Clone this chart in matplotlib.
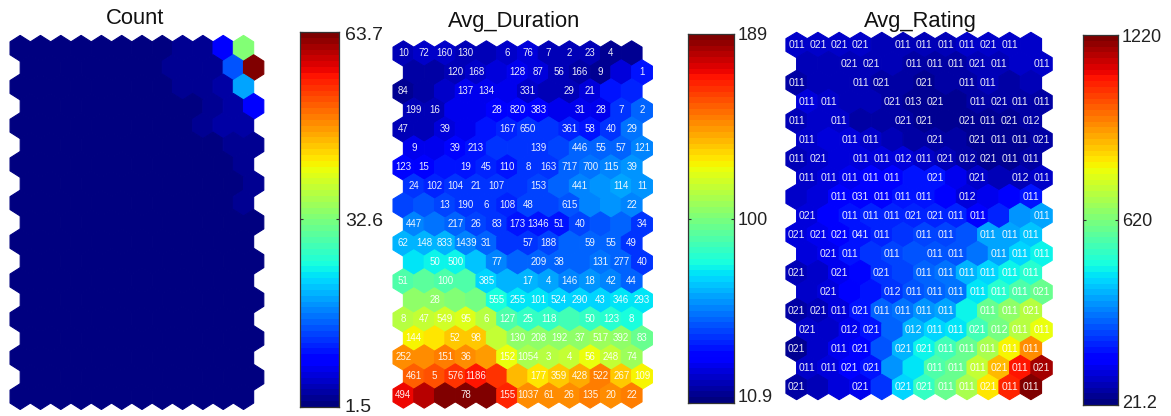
import numpy as np
import matplotlib
matplotlib.use('Agg')
import matplotlib.pyplot as plt
from matplotlib.collections import PolyCollection

plt.rcParams['font.family'] = ['Liberation Sans', 'DejaVu Sans']

# Count hits per map unit (19 rows x 12 columns)
count_values = [
    [2, 2, 2, 2, 2, 2, 2, 2, 2.5, 2.5, 9, 33],
    [2, 2, 2, 2, 2, 2, 2, 2.5, 2.5, 3, 15, 63.7],
    [2, 2, 2, 2, 2, 2, 2, 2, 2.5, 2.5, 4, 19],
    [2, 2, 2, 2, 2, 2, 2, 2, 2, 3, 4, 9],
    [2, 2, 2, 2, 2, 2, 2, 2, 2, 3, 3.5, 3.5],
    [2, 2, 2, 2, 2, 2, 2, 2, 2, 2, 2.5, 2.5],
    [2, 2, 2, 2, 2, 2, 2, 2, 2, 2, 2, 3],
    [2, 2, 2, 2, 2, 2, 2, 2, 2, 2, 2, 2.5],
    [2, 2, 2, 2, 2, 2, 2, 2, 2, 2, 2, 3],
    [2, 2, 2, 2, 2, 2, 2, 2, 2, 2, 2, 2],
    [2, 2, 2, 2, 2, 2, 2, 2, 2, 2, 2, 2],
    [2, 2, 2, 2, 2, 2, 2, 2, 2, 2, 2, 2],
    [2, 2, 2, 2, 2, 2, 2, 2, 2, 2, 2, 2],
    [2, 2, 2, 2, 2, 2, 2, 2, 2, 2, 2, 2],
    [2, 2, 2, 2, 2, 2, 2, 2, 2, 2, 2, 2],
    [2, 2, 2, 2, 2, 2, 2, 2, 2, 2, 2, 2],
    [2, 2, 2, 2, 2, 2, 2, 2, 2, 2, 2, 2],
    [2, 2, 2, 2, 2, 2, 2, 2, 2, 2, 2, 2],
    [2, 2, 2, 2, 2, 2, 2, 2, 2, 2, 2, 2],
]

duration_values = [
    [20, 24, 24, 22, 20, 24, 26, 22, 20, 20, 15, 15],
    [17, 17, 20, 24, 26, 28, 26, 22, 17, 16, 26, 36],
    [14, 18, 24, 28, 30, 28, 24, 22, 22, 26, 36, 40],
    [20, 20, 28, 30, 32, 34, 32, 30, 28, 30, 42, 50],
    [20, 22, 26, 30, 36, 40, 42, 44, 40, 38, 44, 54],
    [28, 30, 34, 38, 42, 42, 44, 46, 50, 50, 52, 58],
    [34, 32, 36, 38, 40, 38, 42, 44, 50, 54, 58, 60],
    [42, 40, 44, 44, 42, 44, 46, 50, 56, 60, 62, 60],
    [46, 48, 46, 44, 42, 40, 46, 46, 48, 56, 60, 56],
    [56, 54, 50, 46, 42, 36, 38, 38, 46, 48, 50, 44],
    [64, 66, 64, 56, 50, 44, 44, 46, 50, 50, 52, 44],
    [74, 76, 76, 68, 58, 52, 52, 50, 50, 54, 52, 44],
    [90, 92, 90, 90, 70, 64, 64, 62, 58, 60, 58, 52],
    [103, 103, 100, 98, 80, 74, 74, 72, 72, 72, 74, 74],
    [112, 115, 118, 122, 112, 90, 86, 86, 88, 85, 82, 80],
    [126, 130, 136, 135, 115, 103, 105, 105, 104, 106, 104, 96],
    [146, 145, 148, 146, 143, 124, 110, 112, 116, 124, 115, 108],
    [155, 156, 162, 168, 163, 137, 130, 135, 140, 148, 135, 125],
    [170, 178, 187, 189, 189, 165, 147, 145, 145, 148, 147, 148],
]

rating_values = [
    [110, 105, 100, 100, 95, 90, 90, 95, 100, 110, 110, 110],
    [90, 90, 95, 95, 80, 70, 65, 70, 85, 90, 100, 100],
    [70, 80, 85, 85, 70, 60, 50, 60, 75, 80, 75, 85],
    [120, 100, 85, 80, 65, 55, 50, 50, 60, 65, 65, 75],
    [85, 100, 110, 75, 65, 65, 55, 45, 50, 55, 55, 65],
    [100, 115, 125, 100, 80, 60, 60, 60, 55, 50, 50, 60],
    [95, 110, 130, 130, 120, 115, 100, 80, 60, 55, 50, 60],
    [110, 120, 150, 155, 160, 200, 190, 150, 100, 95, 95, 110],
    [110, 130, 160, 170, 165, 190, 195, 160, 130, 150, 170, 200],
    [130, 160, 190, 215, 220, 225, 220, 210, 170, 220, 340, 370],
    [120, 150, 170, 200, 225, 240, 250, 250, 270, 360, 360, 400],
    [125, 140, 190, 230, 250, 265, 280, 280, 320, 370, 420, 460],
    [80, 100, 140, 180, 230, 260, 300, 320, 380, 430, 460, 490],
    [110, 120, 160, 200, 230, 270, 300, 320, 440, 500, 550, 600],
    [60, 90, 130, 190, 290, 310, 340, 370, 470, 600, 650, 700],
    [100, 110, 150, 190, 300, 380, 420, 450, 540, 620, 700, 780],
    [50, 100, 140, 170, 270, 380, 460, 540, 600, 690, 790, 930],
    [110, 120, 160, 200, 340, 450, 560, 600, 720, 880, 1080, 1170],
    [60, 90, 130, 150, 240, 430, 520, 590, 680, 810, 1070, 1220],
]

duration_labels = [
    ['10', '72', '160', '130', '', '6', '76', '7', '2', '23', '4', ''],
    ['', '', '120', '168', '', '128', '87', '56', '166', '9', '', '1'],
    ['84', '', '', '137', '134', '', '331', '', '29', '21', '', ''],
    ['199', '16', '', '', '28', '820', '383', '', '31', '28', '7', '2'],
    ['47', '', '39', '', '', '167', '650', '', '361', '58', '40', '29'],
    ['9', '', '39', '213', '', '', '139', '', '446', '55', '57', '121'],
    ['123', '15', '', '19', '45', '110', '8', '163', '717', '700', '115', '39'],
    ['24', '102', '104', '21', '107', '', '153', '', '441', '', '114', '11'],
    ['', '', '13', '190', '6', '108', '48', '', '615', '', '', '22'],
    ['447', '', '217', '26', '83', '173', '1346', '51', '40', '', '', '34'],
    ['62', '148', '833', '1439', '31', '', '57', '188', '', '59', '55', '49'],
    ['', '50', '500', '', '77', '', '209', '38', '', '131', '277', '40'],
    ['51', '', '100', '', '385', '', '17', '4', '146', '18', '42', '44'],
    ['', '28', '', '', '555', '255', '101', '524', '290', '43', '346', '293'],
    ['8', '47', '549', '95', '6', '127', '25', '118', '', '50', '123', '8'],
    ['144', '', '52', '98', '', '130', '208', '192', '37', '517', '392', '83'],
    ['252', '', '151', '36', '', '152', '1054', '3', '4', '56', '248', '74'],
    ['461', '5', '576', '1186', '', '', '177', '359', '428', '522', '267', '109'],
    ['494', '', '', '78', '', '155', '1037', '61', '26', '135', '20', '22'],
]

rating_labels = [
    ['011', '021', '021', '021', '', '011', '011', '011', '011', '021', '011', ''],
    ['', '', '021', '021', '', '011', '011', '011', '021', '011', '', '011'],
    ['011', '', '', '011', '021', '', '021', '', '011', '011', '', ''],
    ['011', '011', '', '', '021', '013', '021', '', '011', '021', '011', '011'],
    ['011', '', '011', '', '', '021', '021', '', '021', '011', '021', '012'],
    ['011', '', '011', '011', '', '', '021', '', '021', '011', '011', '021'],
    ['011', '021', '', '011', '011', '012', '011', '021', '012', '021', '011', '011'],
    ['011', '011', '011', '011', '011', '', '021', '', '021', '', '012', '011'],
    ['', '', '011', '031', '011', '011', '011', '', '012', '', '', '011'],
    ['021', '', '011', '011', '011', '021', '021', '011', '011', '', '', '011'],
    ['021', '021', '021', '041', '011', '', '011', '011', '', '011', '011', '011'],
    ['', '021', '011', '', '011', '', '011', '011', '', '011', '011', '011'],
    ['021', '', '021', '', '021', '', '011', '011', '011', '011', '011', '011'],
    ['', '021', '', '', '012', '011', '011', '011', '011', '011', '011', '021'],
    ['021', '021', '011', '021', '011', '011', '011', '011', '', '011', '011', '021'],
    ['021', '', '012', '021', '', '012', '011', '011', '021', '012', '011', '011'],
    ['021', '', '011', '021', '', '021', '021', '011', '011', '011', '011', '011'],
    ['011', '011', '021', '021', '', '', '011', '011', '011', '021', '011', '021'],
    ['021', '', '', '021', '', '021', '021', '011', '011', '021', '011', '011'],
]

FIG_W, FIG_H = 1171, 416
jet64 = plt.get_cmap('jet', 64)

# one hexagon in lattice units, row pitch = 1 so point height is 4/3
hex_shape = np.array([[0, -2/3], [0.5, -1/3], [0.5, 1/3], [0, 2/3], [-0.5, 1/3], [-0.5, -1/3]])


def px_axes(left, top, width, height):
    return fig.add_axes([left / FIG_W, 1 - (top + height) / FIG_H, width / FIG_W, height / FIG_H])


def draw_map(x0, y0, dx, dy, values, labels, vmin, vmax, fsize):
    values = np.array(values, dtype=float)
    nrows, ncols = values.shape
    ax = px_axes(x0 - dx, y0 - 2 * dy, dx * (ncols + 2), dy * (nrows + 3))
    polys = []
    for r in range(nrows):
        for c in range(ncols):
            polys.append(hex_shape + [c + 0.5 * (r % 2), r])
    coll = PolyCollection(polys, cmap=jet64, linewidths=0.8, edgecolors='face')
    coll.set_array(values.ravel())
    coll.set_clim(vmin, vmax)
    ax.add_collection(coll)
    ax.set_xlim(-1, ncols + 1)
    ax.set_ylim(nrows + 1, -2)
    ax.axis('off')
    if labels is not None:
        for r, row in enumerate(labels):
            for c, txt in enumerate(row):
                if txt:
                    ax.text(c + 0.5 * (r % 2), r, txt, color='white', fontsize=fsize,
                            ha='center', va='center', alpha=0.92, clip_on=False)


def draw_bar(left, top, width, height, vmin, vmax, ticklabels, pad, fsize, shifts):
    ax = px_axes(left, top, width, height)
    grad = np.linspace(vmax, vmin, 64).reshape(-1, 1)
    ax.imshow(grad, aspect='auto', cmap=jet64, vmin=vmin, vmax=vmax, extent=[0, 1, vmin, vmax])
    ticks = [vmin, (vmin + vmax) / 2, vmax]
    ax.set_xticks([])
    ax.set_yticks(ticks, [])
    ax.tick_params(axis='y', direction='in', left=True, right=True, length=2.5, width=0.8,
                   color='#333333')
    for s in ax.spines.values():
        s.set_linewidth(0.9)
        s.set_color('#333333')
    # labels sit a little off their ticks in the original, so they are placed by hand
    for tick, txt, shift in zip(ticks, ticklabels, shifts):
        ax.annotate(txt, xy=(1, tick), xycoords=ax.get_yaxis_transform(), xytext=(pad, -shift),
                    textcoords='offset pixels', va='center', ha='left', fontsize=fsize,
                    color='#222222', annotation_clip=False)


fig = plt.figure(figsize=(FIG_W / 100, FIG_H / 100), dpi=100)

draw_map(20.2, 48.3, 20.3, 19.35, count_values, None, 1.5, 63.7, 7)
draw_bar(300, 32, 39, 375, 1.5, 63.7, ['1.5', '32.6', '63.7'], 6, 14, [0, 2, 3])
fig.text(135 / FIG_W, 1 - 19 / FIG_H, 'Count', fontsize=15.8, ha='center', va='center', color='#111111')

draw_map(403.4, 53.5, 20.75, 19, duration_values, duration_labels, 10.9, 189, 7)
draw_bar(688, 34, 46, 369, 10.9, 189, ['10.9', '100', '189'], 4, 13, [-5, 2, 1])
fig.text(514 / FIG_W, 1 - 21 / FIG_H, 'Avg_Duration', fontsize=15.8, ha='center', va='center', color='#111111')

draw_map(796.6, 45, 21.3, 19, rating_values, rating_labels, 21.2, 1220, 7.5)
draw_bar(1083, 35, 35, 370, 21.2, 1220, ['21.2', '620', '1220'], 4, 13, [-2, 2, 3])
fig.text(920 / FIG_W, 1 - 21 / FIG_H, 'Avg_Rating', fontsize=15.8, ha='center', va='center', color='#111111')

fig.savefig('out.png', dpi=100)
plt.close(fig)
